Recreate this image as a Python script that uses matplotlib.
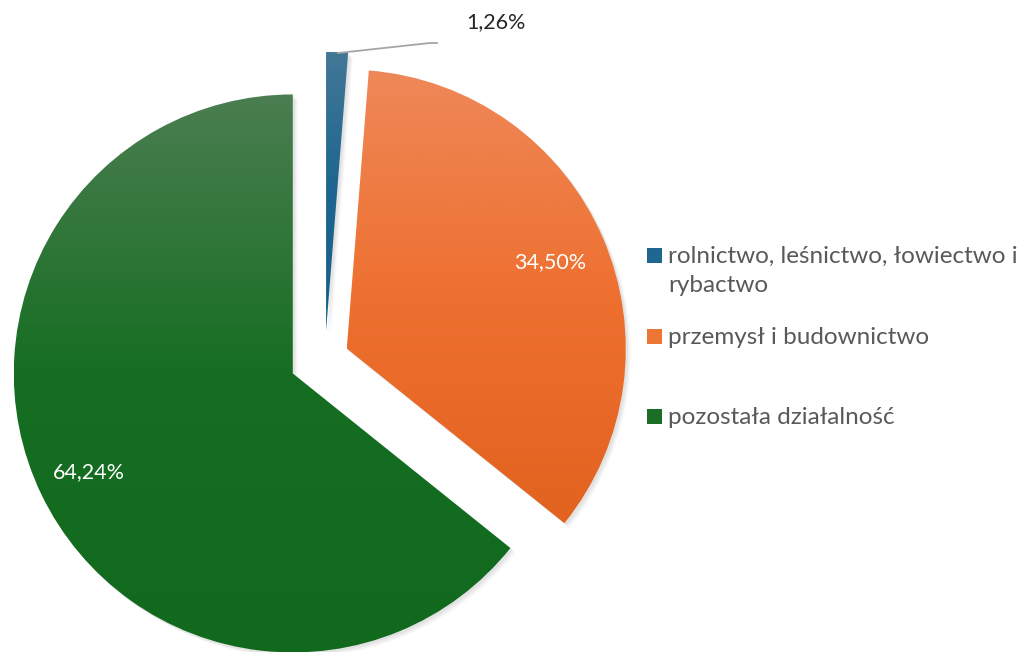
import numpy as np
import matplotlib
matplotlib.use('Agg')
import matplotlib.pyplot as plt
from matplotlib.patches import Rectangle, PathPatch
from matplotlib.transforms import Affine2D
from matplotlib.colors import LinearSegmentedColormap

plt.rcParams['font.family'] = ['Lato', 'DejaVu Sans']

labels = ['rolnictwo, leśnictwo, łowiectwo i\nrybactwo',
          'przemysł i budownictwo',
          'pozostała działalność']
values = [1.26, 34.50, 64.24]
value_text = ['1,26%', '34,50%', '64,24%']
explode = [0.097, 0.085, 0.128]
# gradient stops (top, middle, bottom) for each slice
grad_top = ['#437796', '#ef8858', '#4b7e51']
grad_mid = ['#1d6690', '#ee7030', '#166e22']
grad_bottom = ['#185f86', '#e2621f', '#11691d']
legend_colors = ['#1f6690', '#ee7635', '#1a6e26']

W, H = 1027, 652
cx, cy, R = 325, 358, 279

fig = plt.figure(figsize=(W / 100, H / 100), dpi=100)
ax = fig.add_axes([0, 0, 1, 1])

wedges, _ = ax.pie(values, explode=explode, startangle=90, counterclock=False,
                   radius=1, center=(0, 0), frame=True,
                   wedgeprops=dict(facecolor='none', edgecolor='none'))
ax.set_aspect('auto')
ax.axis('off')

# soft shadow behind the slices
for w in wedges:
    path = w.get_path()
    for dx, dy, a in [(5, -5, 0.04), (4, -4, 0.05), (3, -3, 0.06), (2, -2, 0.08)]:
        sp = Affine2D().translate(dx / R, dy / R).transform_path(path)
        ax.add_patch(PathPatch(sp, facecolor='#7f7f7f', edgecolor='none',
                               alpha=a, zorder=1))

# gradient fill clipped to each wedge
for i, w in enumerate(wedges):
    path = w.get_path()
    ext = path.get_extents()
    cmap = LinearSegmentedColormap.from_list(
        'g%d' % i, [(0, grad_bottom[i]), (0.5, grad_mid[i]), (1, grad_top[i])])
    grad = np.linspace(0, 1, 256).reshape(-1, 1)
    im = ax.imshow(grad, cmap=cmap, origin='lower', aspect='auto',
                   extent=[ext.x0, ext.x1, ext.y0, ext.y1], zorder=2,
                   interpolation='bilinear')
    patch = PathPatch(path, facecolor='none', edgecolor='none')
    ax.add_patch(patch)
    im.set_clip_path(patch)

ax.set_xlim(-cx / R, (W - cx) / R)
ax.set_ylim((cy - H) / R, cy / R)


def px(x, y):
    return ((x - cx) / R, (cy - y) / R)


# value labels
ax.text(*px(550, 262), value_text[1], color='white', fontsize=15.5,
        ha='center', va='center', zorder=5)
ax.text(*px(89, 472), value_text[2], color='white', fontsize=15.5,
        ha='center', va='center', zorder=5)
ax.text(*px(496, 22), value_text[0], color='#262626', fontsize=15.5,
        ha='center', va='center', zorder=5)
lx, ly = zip(px(338, 53), px(430, 43), px(437, 43))
ax.plot(lx, ly, color='#a6a6a6', lw=1.3, zorder=5)

# legend
leg_y = [255, 336, 416]
for lab, col, yy in zip(labels, legend_colors, leg_y):
    fig.patches.append(Rectangle((647 / W, 1 - (yy + 7.5) / H), 15 / W, 15 / H,
                                 transform=fig.transFigure, facecolor=col,
                                 edgecolor='none'))
    fig.text(668 / W, 1 - (yy - 9) / H, lab, color='#595959', fontsize=17.5,
             ha='left', va='top', linespacing=1.45)

fig.savefig('out.png', dpi=100)
